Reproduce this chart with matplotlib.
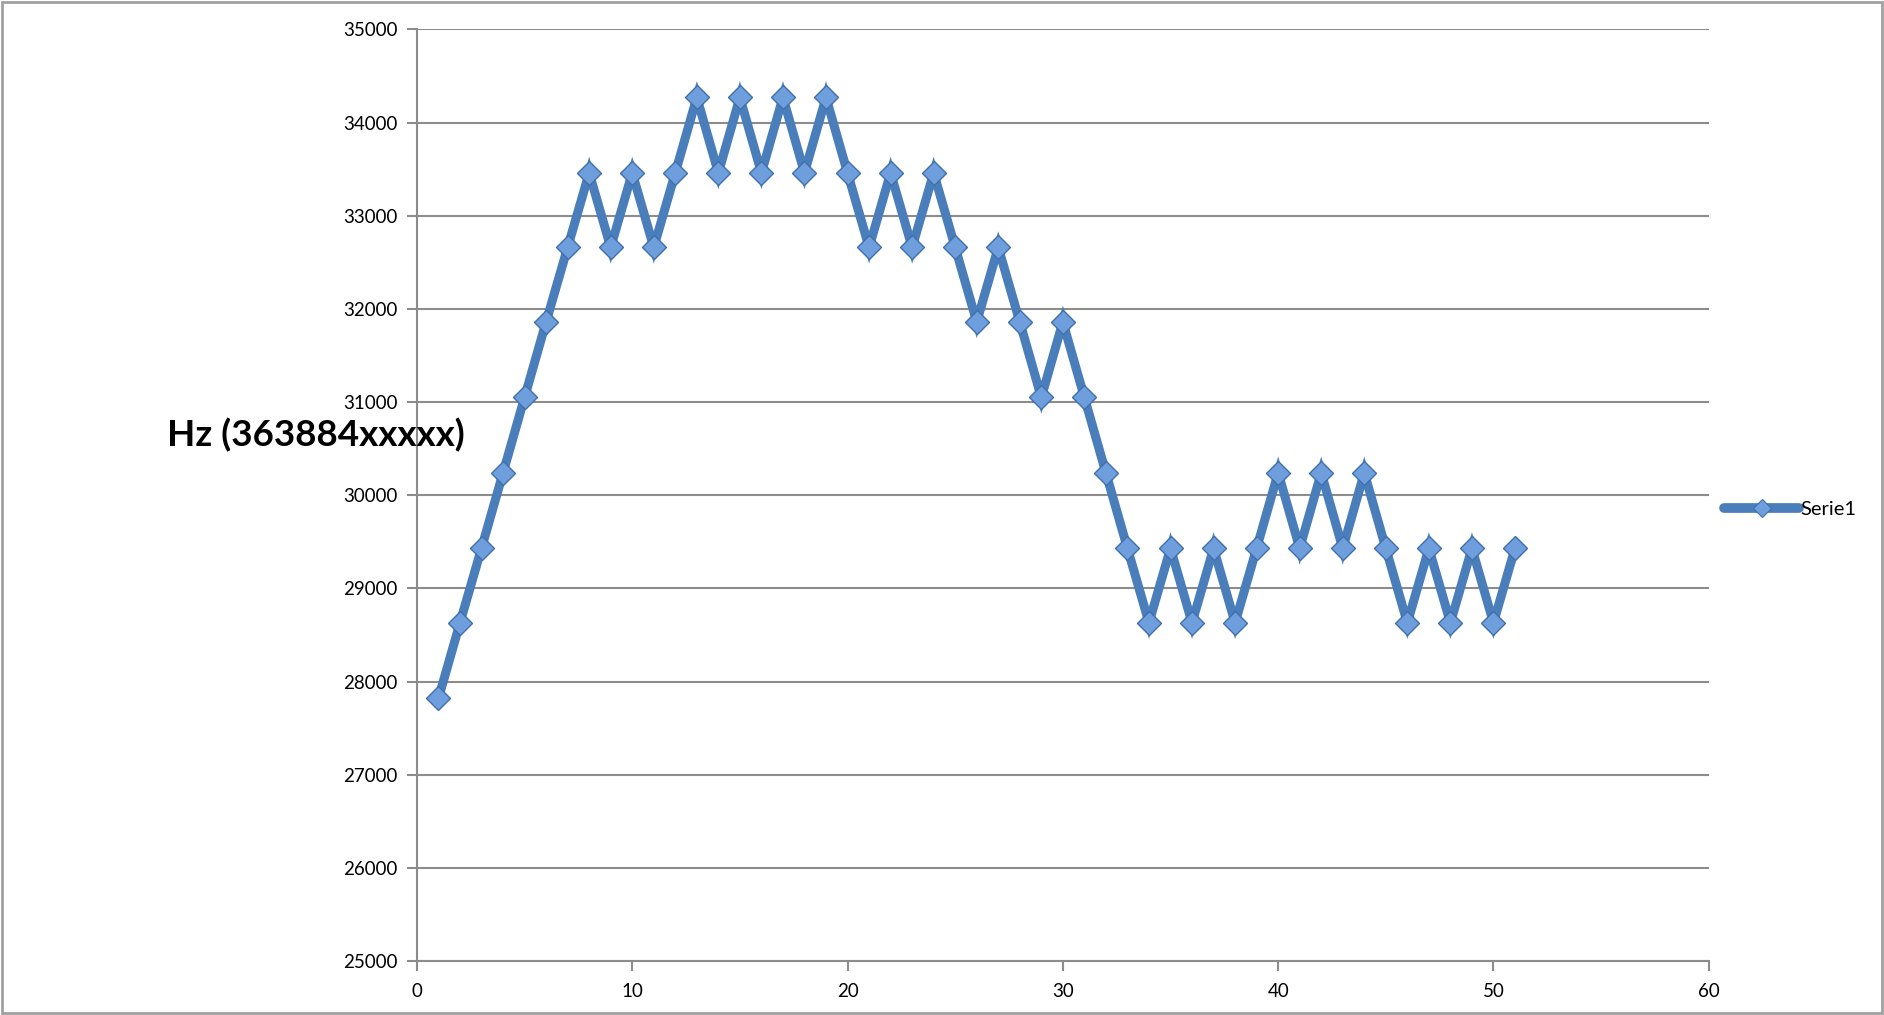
import matplotlib
matplotlib.use('Agg')
import matplotlib.pyplot as plt
import matplotlib.patches as patches
from matplotlib.lines import Line2D

# Data
x_vals = list(range(1, 52))
hz_vals = [27820, 28630, 29430, 30240, 31050, 31860, 32660, 33460, 32660, 33460,
           32660, 33460, 34270, 33460, 34270, 33460, 34270, 33460, 34270, 33460,
           32660, 33460, 32660, 33460, 32660, 31860, 32660, 31860, 31050, 31860,
           31050, 30240, 29430, 28630, 29430, 28630, 29430, 28630, 29430, 30240,
           29430, 30240, 29430, 30240, 29430, 28630, 29430, 28630, 29430, 28630,
           29430]
x_ticks = [0, 10, 20, 30, 40, 50, 60]
y_ticks = [25000, 26000, 27000, 28000, 29000, 30000, 31000, 32000, 33000, 34000, 35000]
series_name = 'Serie1'
y_title = 'Hz (363884xxxxx)'

plt.rcParams['font.family'] = ['Lato', 'DejaVu Sans']

fig = plt.figure(figsize=(18.84, 10.15), dpi=100)
ax = fig.add_axes([0.2213, 0.0532, 0.6857, 0.9178])

grid_col = '#8c8c8c'
line_col = '#4a7ebb'
face_col = '#6e9fdc'
edge_col = '#3f6fae'

ax.plot(x_vals, hz_vals, color=line_col, linewidth=6.5, marker='D', markersize=12.5,
        markerfacecolor=face_col, markeredgecolor=edge_col, markeredgewidth=1,
        solid_joinstyle='miter', zorder=3)

ax.set_xlim(0, 60)
ax.set_ylim(25000, 35000)
ax.set_xticks(x_ticks)
ax.set_yticks(y_ticks)
ax.yaxis.grid(True, color=grid_col, linewidth=1.5)
ax.set_axisbelow(True)
for s in ['top', 'right']:
    ax.spines[s].set_visible(False)
for s in ['left', 'bottom']:
    ax.spines[s].set_color(grid_col)
    ax.spines[s].set_linewidth(1.5)
ax.tick_params(axis='both', colors=grid_col, width=1.5, length=7, labelsize=13.5,
               labelcolor='black')
ax.tick_params(axis='x', pad=9)
ax.tick_params(axis='y', pad=7)

fig.text(0.0886, 0.571, y_title, fontsize=26.5, fontweight='bold', va='center', ha='left')

# legend handle: thick line with a small diamond
handle = Line2D([], [], color=line_col, linewidth=7, solid_capstyle='round', marker='D',
                markersize=9, markerfacecolor=face_col, markeredgecolor=edge_col,
                markeredgewidth=0.8)
ax.legend([handle], [series_name], loc='center left', bbox_to_anchor=(1.012, 0.485),
          frameon=False, fontsize=14.5, handlelength=3.7, handletextpad=0.1,
          borderaxespad=0, borderpad=0)

# grey border round the whole figure
fig.patches.append(patches.Rectangle((0.001, 0.002), 0.998, 0.996, transform=fig.transFigure,
                                     fill=False, edgecolor='#a0a0a0', linewidth=2))

fig.savefig('out.png', dpi=100)
